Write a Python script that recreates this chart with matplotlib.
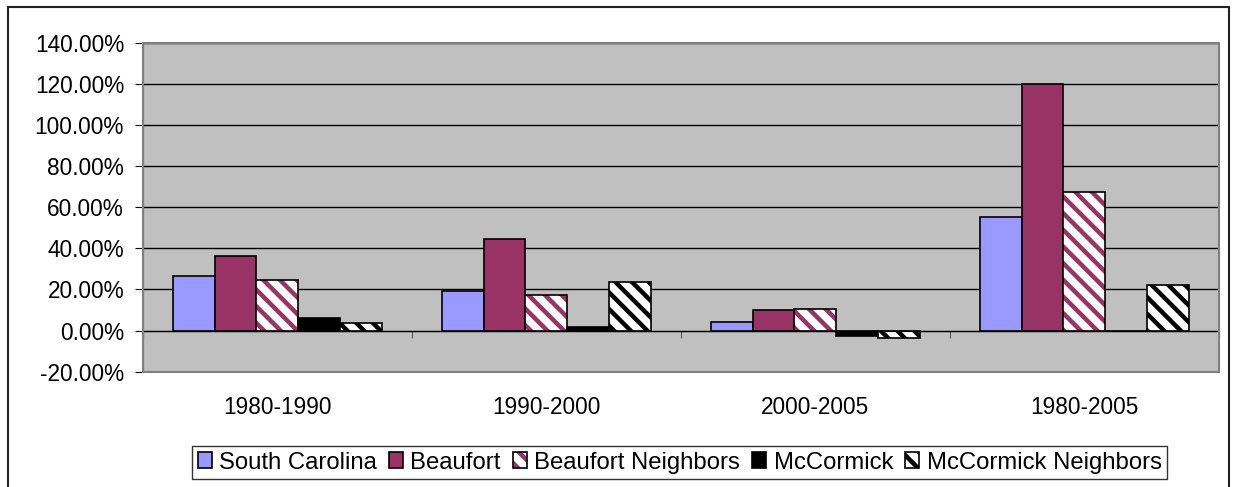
#!/usr/bin/env python3

import numpy as np
import matplotlib
matplotlib.use("Agg")
import matplotlib.pyplot as plt
from matplotlib.patches import Rectangle
from matplotlib.ticker import FuncFormatter, FixedLocator

# growth rates (percent)
periods = ["1980-1990", "1990-2000", "2000-2005", "1980-2005"]
series_names = ["South Carolina", "Beaufort", "Beaufort Neighbors", "McCormick", "McCormick Neighbors"]
south_carolina = [26.4, 19.0, 4.1, 55.0]
beaufort = [36.3, 44.7, 10.0, 120.0]
beaufort_neighbors = [24.6, 17.3, 10.7, 67.3]
mccormick = [6.0, 1.8, -2.6, 0.0]
mccormick_neighbors = [3.6, 23.8, -3.4, 22.1]

values = [south_carolina, beaufort, beaufort_neighbors, mccormick, mccormick_neighbors]
# (face colour, hatch, hatch colour)
styles = [
    ("#9999FF", None, None),
    ("#993366", None, None),
    ("white", "\\\\", "#993366"),
    ("black", None, None),
    ("white", "\\\\", "black"),
]

plt.rcParams['font.family'] = ['Liberation Sans', 'DejaVu Sans']
plt.rcParams['hatch.linewidth'] = 3.2

fig = plt.figure(figsize=(12.36, 4.87), dpi=100)
ax = fig.add_axes([0.1155, 0.2368, 0.8706, 0.6756])
ax.set_facecolor("#C0C0C0")

x = np.arange(len(periods))
width = 0.155
for i, (vals, (fc, hatch, hc)) in enumerate(zip(values, styles)):
    offs = (i - 2) * width
    bars = ax.bar(x + offs, vals, width, color=fc, edgecolor="black", linewidth=1.2,
                  label=series_names[i], zorder=3)
    if hatch:
        for b in bars:
            b.set_hatch(hatch)
            b._hatch_color = matplotlib.colors.to_rgba(hc)

ax.set_xlim(-0.5, len(periods) - 0.5)
ax.set_ylim(-20, 140)
ax.yaxis.set_major_locator(FixedLocator(np.arange(-20, 141, 20)))
ax.yaxis.set_major_formatter(FuncFormatter(lambda v, p: "%.2f%%" % v))
ax.grid(axis="y", color="black", linewidth=1.0, zorder=1)
ax.set_axisbelow(True)

# x axis crosses at zero, ticks at category boundaries
ax.spines["bottom"].set_position(("data", 0))
ax.spines["bottom"].set_color("black")
ax.spines["bottom"].set_zorder(4)
for s in ["top", "right"]:
    ax.spines[s].set_visible(False)
ax.spines["left"].set_color("#555555")
ax.set_xticks(np.arange(-0.5, len(periods) - 0.4, 1.0))
ax.set_xticklabels([])
ax.tick_params(axis="x", direction="out", length=5, color="#555555")
ax.tick_params(axis="y", direction="out", length=5.5, labelsize=16.3, pad=8, color="black")

# plot area border
ax.add_patch(Rectangle((0, 0), 1, 1, transform=ax.transAxes, fill=False,
                       edgecolor="#808080", linewidth=1.5, zorder=5, clip_on=False))

for xi, lab in zip(x, periods):
    ax.text(xi, -0.11, lab, transform=ax.get_xaxis_transform(), ha="center", va="center",
            fontsize=16.3)

leg = fig.legend(loc="center", bbox_to_anchor=(0.5498, 0.0503), ncol=5, fontsize=17.2,
                 frameon=True, fancybox=False, edgecolor="black", handlelength=0.6,
                 handleheight=0.6, handletextpad=0.3, columnspacing=0.5, borderpad=0.25)
leg.get_frame().set_linewidth(1.0)

# outer chart border
fig.patches.append(Rectangle((8 / 1236, -0.05), 1221 / 1236, (487 - 7) / 487 + 0.05,
                             transform=fig.transFigure, fill=False, edgecolor="#222222",
                             linewidth=1.5))

fig.savefig("out.png", dpi=100)
